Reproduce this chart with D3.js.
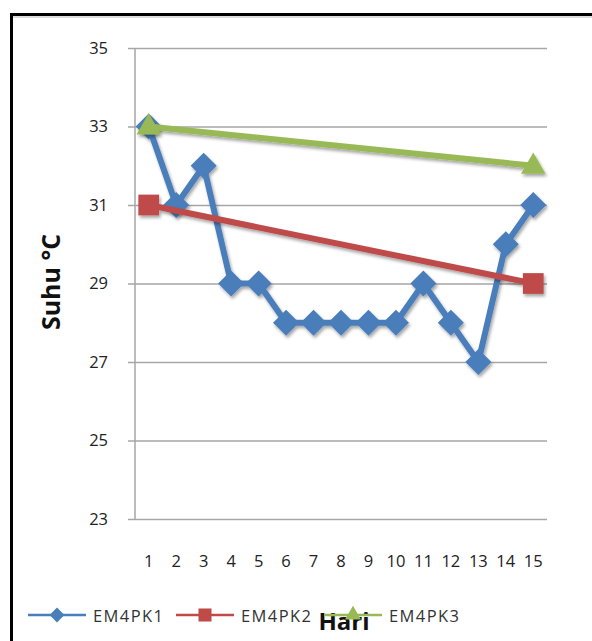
<!DOCTYPE html>
<html>
<head>
<meta charset="utf-8">
<script src="https://cdn.jsdelivr.net/npm/d3@7/dist/d3.min.js"></script>
<style>
  html, body { margin: 0; padding: 0; background: #fff; }
  svg { display: block; }
  text { font-family: "Open Sans", "Noto Sans", sans-serif; }
</style>
</head>
<body>
<div id="chart"></div>
<script>
// Daily temperature readings (Hari 1..15)
const days = [1, 2, 3, 4, 5, 6, 7, 8, 9, 10, 11, 12, 13, 14, 15];
const em4pk1 = [33, 31, 32, 29, 29, 28, 28, 28, 28, 28, 29, 28, 27, 30, 31];
const em4pk2 = [31, null, null, null, null, null, null, null, null, null, null, null, null, null, 29];
const em4pk3 = [33, null, null, null, null, null, null, null, null, null, null, null, null, null, 32];
const seriesNames = ["EM4PK1", "EM4PK2", "EM4PK3"];
const seriesColors = ["#4a7ebb", "#be4b48", "#98b954"];
const yTicks = [23, 25, 27, 29, 31, 33, 35];

// wide diamond: a square turned 45 degrees
const wideDiamond = {
  draw(ctx, size) {
    const r = Math.sqrt(size / 2);
    ctx.moveTo(0, -r); ctx.lineTo(r, 0); ctx.lineTo(0, r); ctx.lineTo(-r, 0); ctx.closePath();
  }
};
const seriesShapes = [wideDiamond, d3.symbolSquare, d3.symbolTriangle];

const W = 592, H = 641;
const svg = d3.select("#chart").append("svg").attr("width", W).attr("height", H);

const defs = svg.append("defs");
const f = defs.append("filter").attr("id", "shadow")
  .attr("x", "-20%").attr("y", "-20%").attr("width", "140%").attr("height", "140%");
f.append("feDropShadow").attr("dx", 1.5).attr("dy", 2.5).attr("stdDeviation", 1.6)
  .attr("flood-color", "#000").attr("flood-opacity", 0.35);
const soft = defs.append("filter").attr("id", "soft");
soft.append("feGaussianBlur").attr("stdDeviation", 0.5);

// outer frame
svg.append("rect").attr("x", 11.5).attr("y", 14.5).attr("width", 620).attr("height", 660)
  .attr("fill", "none").attr("stroke", "#000").attr("stroke-width", 3);
svg.append("line").attr("x1", 13).attr("x2", W).attr("y1", 17).attr("y2", 17)
  .attr("stroke", "#bbb").attr("stroke-width", 1);

const mLeft = 135, mRight = 547, mTop = 48, mBottom = 519;

const x = d3.scaleBand().domain(days).range([mLeft, mRight]);
const y = d3.scaleLinear().domain([23, 35]).range([mBottom, mTop]);

// gridlines + y axis
const yAxis = d3.axisLeft(y).tickValues(yTicks).tickSize(-(mRight - mLeft)).tickPadding(27).tickFormat(d3.format("d"));
const gy = svg.append("g").attr("transform", `translate(${mLeft},0)`).call(yAxis);
gy.select(".domain").remove();
gy.selectAll(".tick line").attr("stroke", "#a6a6a6").attr("stroke-width", 1.5).attr("x1", -7);
gy.selectAll(".tick text").attr("fill", "#222").attr("font-size", 16.5);

svg.append("line").attr("x1", mLeft).attr("x2", mLeft).attr("y1", mTop).attr("y2", mBottom)
  .attr("stroke", "#a6a6a6").attr("stroke-width", 1.5);

// x axis labels
const xAxis = d3.axisBottom(x).tickSize(0).tickPadding(36);
const gx = svg.append("g").attr("transform", `translate(0,${mBottom})`).call(xAxis);
gx.select(".domain").remove();
gx.selectAll(".tick text").attr("fill", "#222").attr("font-size", 16.5);

// axis titles
svg.append("text").attr("transform", `translate(60,282) rotate(-90)`)
  .attr("text-anchor", "middle").attr("font-size", 25).attr("font-weight", "bold")
  .attr("fill", "#111").text("Suhu °C");
svg.append("text").attr("x", 344).attr("y", 630).attr("text-anchor", "middle")
  .attr("font-size", 24).attr("font-weight", "bold").attr("fill", "#111").text("Hari");

// series
const allSeries = [em4pk1, em4pk2, em4pk3];
const cx = d => x(d) + x.bandwidth() / 2;
const line = d3.line().x(d => cx(d.day)).y(d => y(d.v));
const symbolSizes = [340, 430, 260];

const plot = svg.append("g").attr("filter", "url(#soft)");
allSeries.forEach((vals, i) => {
  const pts = days.map((d, k) => ({ day: d, v: vals[k] })).filter(p => p.v !== null);
  const g = plot.append("g").attr("filter", "url(#shadow)");
  g.append("path").datum(pts).attr("d", line).attr("fill", "none")
    .attr("stroke", seriesColors[i]).attr("stroke-width", 6).attr("stroke-linejoin", "round");
  g.selectAll("path.m").data(pts).enter().append("path").attr("class", "m")
    .attr("transform", p => `translate(${cx(p.day)},${y(p.v) + (i === 2 ? 1 : 0)})`)
    .attr("d", d3.symbol().type(seriesShapes[i]).size(symbolSizes[i]))
    .attr("fill", seriesColors[i]);
});

// legend
const legendX = [28, 176, 324];
const ly = 615;
seriesNames.forEach((name, i) => {
  const x0 = legendX[i];
  const g = svg.append("g");
  g.append("line").attr("x1", x0).attr("x2", x0 + 58).attr("y1", ly).attr("y2", ly)
    .attr("stroke", seriesColors[i]).attr("stroke-width", 2.5);
  g.append("path").attr("transform", `translate(${x0 + 29},${ly})`)
    .attr("d", d3.symbol().type(seriesShapes[i]).size([110, 170, 110][i]))
    .attr("fill", seriesColors[i]);
  g.append("text").attr("x", x0 + 65).attr("y", ly + 6.5).attr("font-size", 16.5)
    .attr("textLength", 70).attr("lengthAdjust", "spacing")
    .attr("fill", "#333").text(name);
});
</script>
</body>
</html>
